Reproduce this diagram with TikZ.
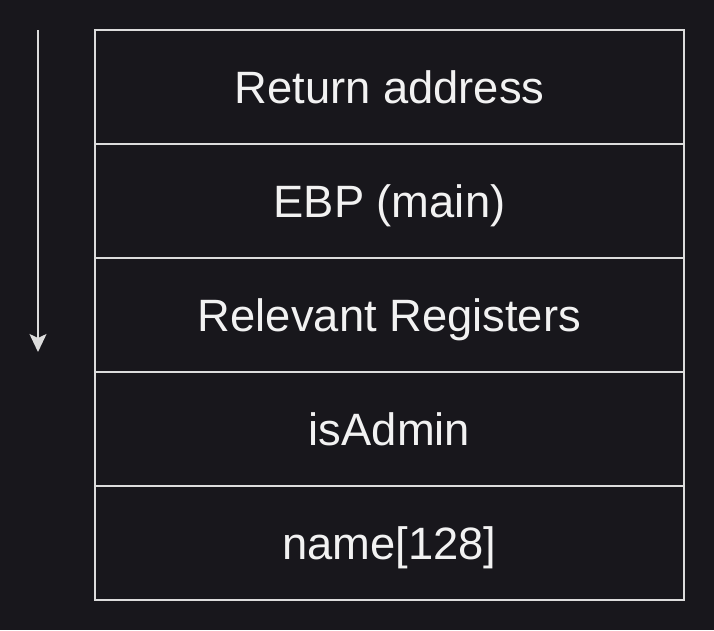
\documentclass[tikz,border=0pt]{standalone}
\usepackage{fontspec}
\setmainfont{Liberation Sans}
\usetikzlibrary{arrows.meta}
\definecolor{bgcol}{HTML}{18171C}
\definecolor{linecol}{HTML}{DCDCDC}
\definecolor{textcol}{HTML}{F2F2F2}
\tikzset{
  frame/.style={draw=linecol, line width=1pt, minimum width=11.78cm,
    minimum height=2.28cm, inner sep=0pt, outer sep=0pt, text=textcol,
    text height=18.8pt, text depth=0pt,
    font=\fontsize{25.8}{30}\selectfont}
}
\begin{document}
\begin{tikzpicture}
            % Background
            \fill[bgcol] (0,0) rectangle (14.28,12.6);
            \useasboundingbox (0,0) rectangle (14.28,12.6);

            % Define stack frame rows
            \node[frame] (ret) at (7.79, 10.86) {Return address};
            \node[frame] (ebp) at (7.79, 8.58) {EBP (main)};
            \node[frame] (regs) at (7.79, 6.30) {Relevant Registers};
            \node[frame] (admin) at (7.79, 4.02) {isAdmin};
            \node[frame] (name) at (7.79, 1.74) {name[128]};

            % Draw growth arrow
            \coordinate (top) at (0.76, 12.0);
            \coordinate (bot) at (0.76, 5.56);
            \draw[-{Stealth[length=0.36cm, width=0.34cm, inset=0.08cm]},
              draw=linecol, fill=linecol, line width=1pt] (top) -- (bot);
        \end{tikzpicture}
\end{document}
